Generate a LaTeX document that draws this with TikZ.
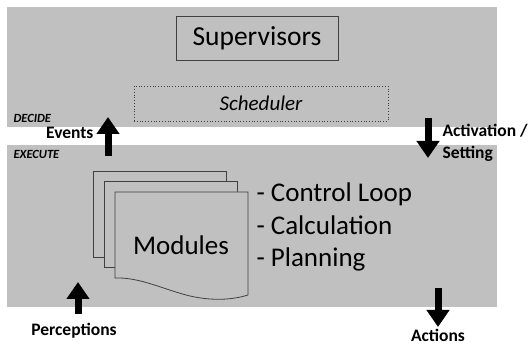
\documentclass[tikz,border=0pt]{standalone}
\usepackage{fontspec}
\setmainfont{Carlito}
\usetikzlibrary{arrows.meta}
\definecolor{bandgray}{RGB}{192,192,192}
\definecolor{edgegray}{RGB}{64,64,64}

\begin{document}
\begin{tikzpicture}[
    x=1pt, y=-1pt,
    band/.style={fill=bandgray},
    box/.style={draw=edgegray, line width=0.8pt, minimum width=162pt, minimum height=44pt, font=\fontsize{27.5}{30}\selectfont},
    schedbox/.style={draw=edgegray, dotted, line width=0.8pt, minimum width=254pt, minimum height=35pt, font=\fontsize{21}{25}\selectfont\itshape},
    tag/.style={anchor=west, font=\fontsize{12.5}{14}\selectfont\bfseries\itshape},
    lbl/.style={font=\fontsize{17.5}{22}\selectfont\bfseries},
    item/.style={anchor=base west, font=\fontsize{27}{32}\selectfont},
    page/.style={draw=edgegray, line width=0.8pt, fill=bandgray},
    blockarrow/.style={line width=7pt, -{Triangle[width=22pt,length=17pt]}},
]
\useasboundingbox (0,0) rectangle (530,344);
\fill[band] (7,7) rectangle (497,127);
\fill[band] (7,145) rectangle (497,307);

\node[box] (sup) at (257,38) {Supervisors};
\node[schedbox] (sched) at (261,103.5) {Scheduler};
\node[tag] (decide) at (10,118) {DECIDE};
\node[tag] (execute) at (10,154) {EXECUTE};

% the pile of modules
\foreach \k in {0,1}
  \draw[page] (93+11*\k,171+10.5*\k) rectangle ++(133,86);
\draw[page] (115,192) -- (248,192) -- (248,295)
  .. controls (232,300) and (212,301) .. (190,296)
  .. controls (165,290) and (140,277) .. (115,278) -- cycle;
\node[font=\fontsize{27}{32}\selectfont] (mod) at (181,245) {Modules};
\foreach \txt [count=\i] in {Control Loop, Calculation, Planning}
  \node[item] (item\i) at (253,169.5+32.5*\i) {- \txt};

% arrows between the two levels and to the outside
\coordinate (ev0) at (108,156);
\coordinate (ev1) at (108,117);
\draw[blockarrow] (ev0) -- (ev1);
\node[lbl, anchor=east] (events) at (97,133) {Events};

\coordinate (act0) at (428,118);
\coordinate (act1) at (428,158);
\draw[blockarrow] (act0) -- (act1);
\node[lbl, anchor=north west, align=left] (activ) at (439,121) {Activation /\\Setting};

\coordinate (per0) at (78,314);
\coordinate (per1) at (78,282);
\draw[blockarrow] (per0) -- (per1);
\node[lbl] (percep) at (74,331) {Perceptions};

\coordinate (out0) at (438,288);
\coordinate (out1) at (438,327);
\draw[blockarrow] (out0) -- (out1);
\node[lbl] (actions) at (438,335) {Actions};
\end{tikzpicture}
\end{document}
